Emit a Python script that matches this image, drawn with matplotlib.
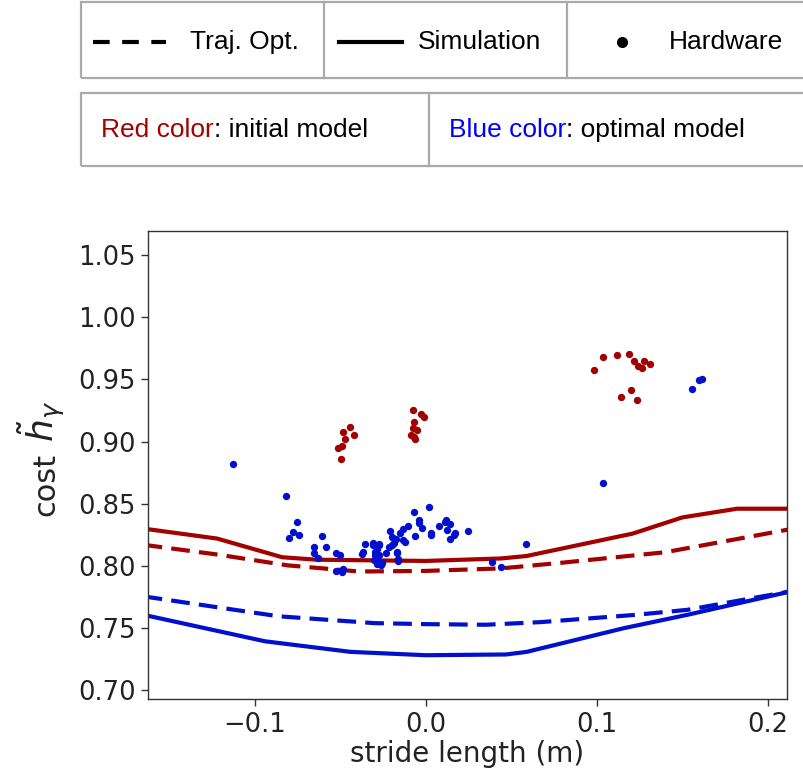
#%% imports
import numpy as np
import matplotlib
matplotlib.use('Agg')
import matplotlib.pyplot as plt
from matplotlib.patches import Rectangle
from matplotlib.lines import Line2D

#%% dados

# curvas de trajetoria otimizada (tracejado) e simulacao (continuo)
sim_ini_x = [-0.165, -0.122, -0.084, -0.064, 0.0, 0.044, 0.059, 0.121, 0.150, 0.182, 0.215]
sim_ini_y = [0.830, 0.822, 0.807, 0.805, 0.804, 0.806, 0.808, 0.826, 0.839, 0.846, 0.846]

to_ini_x = [-0.165, -0.121, -0.081, -0.039, 0.0, 0.044, 0.079, 0.140, 0.215]
to_ini_y = [0.817, 0.809, 0.8005, 0.7955, 0.796, 0.798, 0.8025, 0.811, 0.830]

to_opt_x = [-0.165, -0.086, -0.030, 0.0, 0.035, 0.067, 0.123, 0.153, 0.215]
to_opt_y = [0.7755, 0.7595, 0.754, 0.7532, 0.7527, 0.7548, 0.7607, 0.7647, 0.7800]

sim_opt_x = [-0.165, -0.094, -0.044, 0.0, 0.047, 0.059, 0.116, 0.153, 0.215]
sim_opt_y = [0.7607, 0.7394, 0.7309, 0.7282, 0.7288, 0.7309, 0.750, 0.7607, 0.7800]

# pontos do hardware - modelo inicial (vermelho)
hw_ini_x = [-0.0443, -0.0482, -0.0418, -0.0473, -0.0492, -0.0512, -0.0498,
            -0.0077, -0.0028, -0.0011, -0.0069, -0.0077, -0.0053, -0.0087, -0.0069, -0.0061,
            0.0984, 0.1038, 0.1116, 0.1186, 0.1218, 0.1243, 0.1262, 0.1278, 0.1311,
            0.1202, 0.1140, 0.1233]
hw_ini_y = [0.9119, 0.9078, 0.9056, 0.9022, 0.8968, 0.8946, 0.8863,
            0.9250, 0.9218, 0.9196, 0.9156, 0.9110, 0.9091, 0.9056, 0.9038, 0.9022,
            0.9573, 0.9680, 0.9694, 0.9702, 0.9645, 0.9607, 0.9594, 0.9648, 0.9627,
            0.9411, 0.9357, 0.9336]

# pontos do hardware - modelo otimo (azul)
hw_opt_x = [-0.1126, -0.0818, -0.0755, -0.0778, -0.0800, -0.0743, -0.0654, -0.0607,
            -0.0584, -0.0652, -0.0629, -0.0527, -0.0502, -0.0527, -0.0488, -0.0482,
            -0.0369, -0.0356, -0.0307, -0.0287, -0.0297, -0.0284, -0.0258, -0.0272,
            -0.0233, -0.0209, -0.0199, -0.0186, -0.0213, -0.0170, -0.0161, -0.0151,
            -0.0132, -0.0132, -0.0122, -0.0102, -0.0069, -0.0061, -0.0038, -0.0022,
            0.0017, 0.0032, 0.0079, 0.0118, 0.0142, 0.0124, 0.0142, 0.0171, 0.0245,
            -0.0374, -0.0308, -0.0276, -0.0296, -0.0271, -0.0300, -0.0259, -0.0283,
            -0.0167, -0.0160, -0.0197, -0.0172, -0.0042, 0.0030, 0.0113, 0.0167,
            0.0586, 0.0385, 0.0438, 0.1038, 0.1559, 0.1596, 0.1615]
hw_opt_y = [0.8820, 0.8565, 0.8350, 0.8269, 0.8228, 0.8250, 0.8156, 0.8240,
            0.8156, 0.8107, 0.8067, 0.8102, 0.8089, 0.7962, 0.7949, 0.7973,
            0.8113, 0.8177, 0.8188, 0.8135, 0.8089, 0.8048, 0.8027, 0.8177,
            0.8102, 0.8277, 0.8236, 0.8188, 0.8156, 0.8115, 0.8054, 0.8264,
            0.8296, 0.8210, 0.8191, 0.8323, 0.8433, 0.8242, 0.8368, 0.8304,
            0.8476, 0.8261, 0.8325, 0.8368, 0.8339, 0.8290, 0.8218, 0.8264, 0.8282,
            0.8093, 0.8170, 0.8170, 0.8112, 0.8085, 0.8045, 0.8010, 0.8019,
            0.8100, 0.8037, 0.8165, 0.8218, 0.8346, 0.8245, 0.8351, 0.8250,
            0.8175, 0.8035, 0.7989, 0.8669, 0.9422, 0.9494, 0.9505]

xticks = [-0.1, 0.0, 0.1, 0.2]
yticks = [0.70, 0.75, 0.80, 0.85, 0.90, 0.95, 1.00, 1.05]

vermelho = '#a30000'
azul = '#0010cc'

#%% figura
W, H = 804, 774
fig = plt.figure(figsize=(W / 100, H / 100), dpi=100)

# converte pixel -> fracao da figura
def fx(px):
    return px / W

def fy(py):
    return 1 - py / H

ax = fig.add_axes([fx(148), fy(699), fx(639), 468 / H])

lw = 3.0
ax.plot(sim_ini_x, sim_ini_y, color=vermelho, lw=lw)
ax.plot(to_ini_x, to_ini_y, color=vermelho, lw=lw, dashes=(4.5, 2.2))
ax.plot(sim_opt_x, sim_opt_y, color=azul, lw=lw)
ax.plot(to_opt_x, to_opt_y, color=azul, lw=lw, dashes=(4.5, 2.2))
ax.scatter(hw_ini_x, hw_ini_y, s=28, color=vermelho, zorder=3, linewidths=0)
ax.scatter(hw_opt_x, hw_opt_y, s=28, color=azul, zorder=3, linewidths=0)

ax.set_xlim(-0.1624, 0.2112)
ax.set_ylim(0.693, 1.0693)
ax.set_xticks(xticks)
ax.set_yticks(yticks)
ax.set_xticklabels(['\u22120.1', '0.0', '0.1', '0.2'])
ax.set_yticklabels(['%.2f' % v for v in yticks])
ax.tick_params(labelsize=18.5, length=5, width=1, color='#333333', labelcolor='#222222', pad=4)
for sp in ax.spines.values():
    sp.set_color('#333333')
    sp.set_linewidth(1.0)

ax.set_xlabel('stride length (m)', fontsize=20, color='#222222', labelpad=2)

# rotulo y: "cost" e o simbolo, desenhados separados
fig.text(fx(54), fy(516), 'cost', fontsize=22, color='#222222', rotation=90,
         rotation_mode='anchor', ha='left', va='baseline')
fig.text(fx(54), fy(442), r'$\tilde{h}_{\gamma}$', fontsize=26, color='#222222', rotation=90,
         rotation_mode='anchor', ha='left', va='baseline')

#%% legenda em caixas no topo
cinza = '#aaaaaa'
for (x0, y0, x1, y1) in [(81, 2, 812, 78), (81, 93, 812, 166)]:
    fig.add_artist(Rectangle((fx(x0), fy(y1)), fx(x1 - x0), (y1 - y0) / H,
                             transform=fig.transFigure, fill=False,
                             edgecolor=cinza, lw=1.6, clip_on=False))
for xd in [324, 567]:
    fig.add_artist(Line2D([fx(xd), fx(xd)], [fy(2), fy(78)], color=cinza, lw=1.6))
fig.add_artist(Line2D([fx(429), fx(429)], [fy(93), fy(166)], color=cinza, lw=1.6))

fonte = dict(family='Liberation Sans', fontsize=19, va='center')
fig.add_artist(Line2D([fx(93), fx(166)], [fy(42), fy(42)], color='black', lw=3, dashes=(4, 3)))
fig.text(fx(190), fy(42), 'Traj. Opt.', **fonte)
fig.add_artist(Line2D([fx(339), fx(402)], [fy(42), fy(42)], color='black', lw=3))
fig.text(fx(418), fy(42), 'Simulation', **fonte)
fig.add_artist(Line2D([fx(622)], [fy(42)], marker='o', markersize=7, color='black', lw=0))
fig.text(fx(669), fy(42), 'Hardware', **fonte)

fonte2 = dict(family='Liberation Sans', fontsize=19)
t1 = fig.text(fx(101), fy(130), 'Red color', color=vermelho, va='center', **fonte2)
plt.annotate(': initial model', xy=(1, 0), xycoords=t1, va='bottom', ha='left', **fonte2)
t2 = fig.text(fx(449), fy(130), 'Blue color', color='#0000ff', va='center', **fonte2)
plt.annotate(': optimal model', xy=(1, 0), xycoords=t2, va='bottom', ha='left', **fonte2)

fig.savefig('out.png', dpi=100)
